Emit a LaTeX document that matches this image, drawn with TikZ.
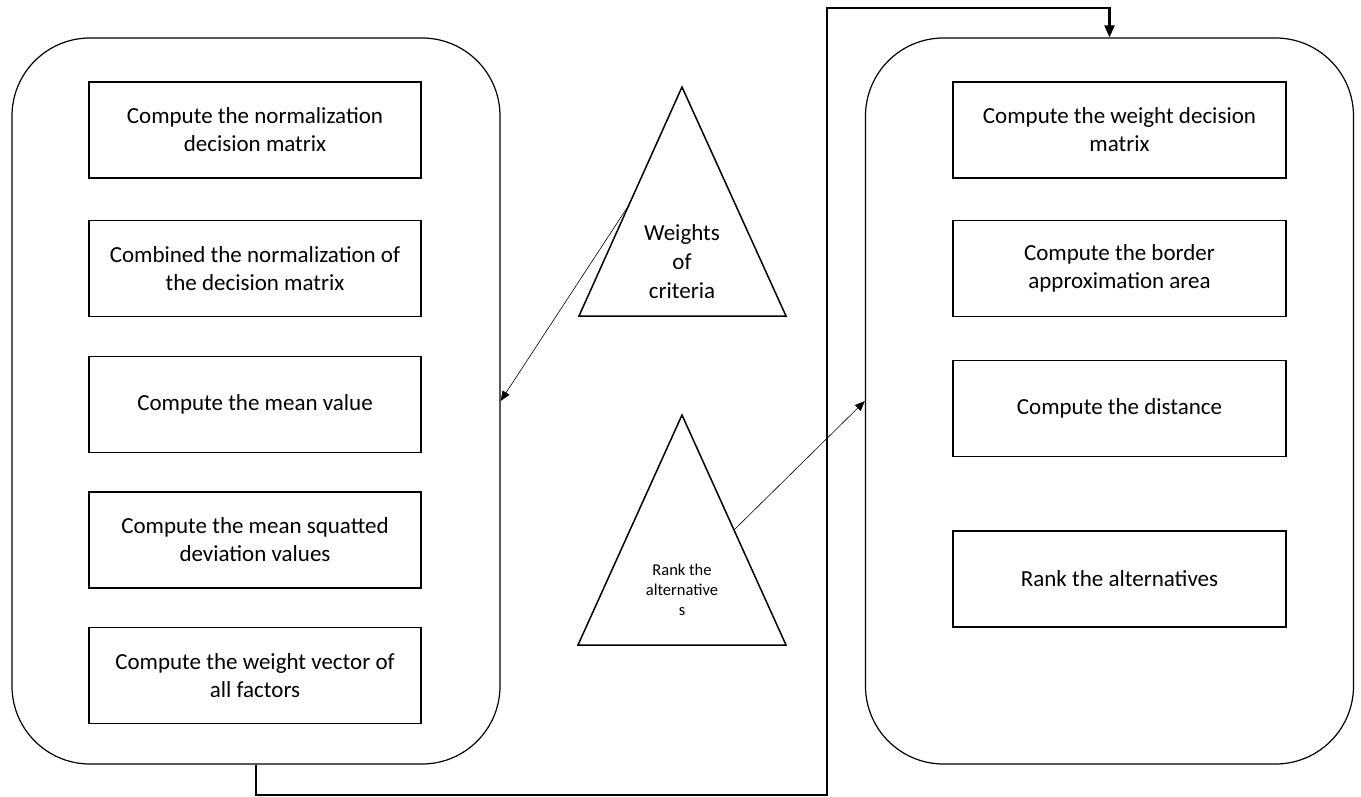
\documentclass[tikz,border=0pt]{standalone}
\usepackage{fontspec}
\setmainfont{Carlito}
\usetikzlibrary{arrows.meta,calc,positioning}
\tikzset{
  stage/.style={draw, line width=1.2pt, rounded corners=78pt,
                minimum width=488pt, minimum height=726pt},
  stepbox/.style={draw, line width=1.2pt, minimum width=332pt,
                  minimum height=96pt, align=center,
                  font=\fontsize{23}{28}\selectfont},
  tri/.style={draw, line width=1.5pt, line join=miter},
  link/.style={line width=0.6pt, -{Triangle[length=10pt,width=8pt]}},
  flow/.style={line width=2.4pt, -{Triangle[length=12pt,width=10pt]}}
}

\begin{document}
\begin{tikzpicture}[x=1pt,y=-1pt]
  \useasboundingbox (0,0) rectangle (1361,797);

  %% two big stages
  \node[stage] (leftbox)  at (256,401)    {};
  \node[stage] (rightbox) at (1109.5,401) {};

  %% left stage steps
  \foreach \yy/\nm/\txt in {
      130/la/{Compute the normalization\\decision matrix},
      268.5/lb/{Combined the normalization of\\the decision matrix},
      404.5/lc/{Compute the mean value},
      540/ld/{Compute the mean squatted\\deviation values},
      675.5/le/{Compute the weight vector of\\all factors}}{
    \node[stepbox] (\nm) at (255,\yy) {\txt};
  }

  %% right stage steps
  \foreach \yy/\nm/\txt in {
      130/ra/{Compute the weight decision\\matrix},
      268.5/rb/{Compute the border\\approximation area},
      408.5/rc/{Compute the distance},
      579/rd/{Rank the alternatives}}{
    \node[stepbox, minimum width=333pt] (\nm) at (1119.5,\yy) {\txt};
  }

  %% weights triangle
  \coordinate (wtop) at (682,87);
  \coordinate (wbl)  at (579,316);
  \coordinate (wbr)  at (786,316);
  \draw[tri] (wtop) -- (wbl) -- (wbr) -- cycle;
  \node[align=center, font=\fontsize{23}{29}\selectfont]
    (wtxt) at (682,262) {Weights\\of\\criteria};

  %% rank triangle
  \coordinate (rtop) at (682,415);
  \coordinate (rbl)  at (578,645);
  \coordinate (rbr)  at (786,645);
  \draw[tri] (rtop) -- (rbl) -- (rbr) -- cycle;
  \node[align=center, font=\fontsize{16.5}{20}\selectfont]
    (rtxt) at (682,590) {Rank the\\alternative\\s};

  %% thin links
  \coordinate (wfrom) at ($(wbl)!0.485!(wtop)$);
  \coordinate (rfrom) at ($(rbr)!0.5!(rtop)$);
  \draw[link] (wfrom) -- (leftbox.east);
  \draw[link] (rfrom) -- (rightbox.west);

  %% main flow between stages
  \coordinate (lowturn)  at (827,795);
  \coordinate (highturn) at (827,8);
  \draw[flow] (leftbox.south) |- (lowturn) -- (highturn) -| (rightbox.north);
\end{tikzpicture}
\end{document}
